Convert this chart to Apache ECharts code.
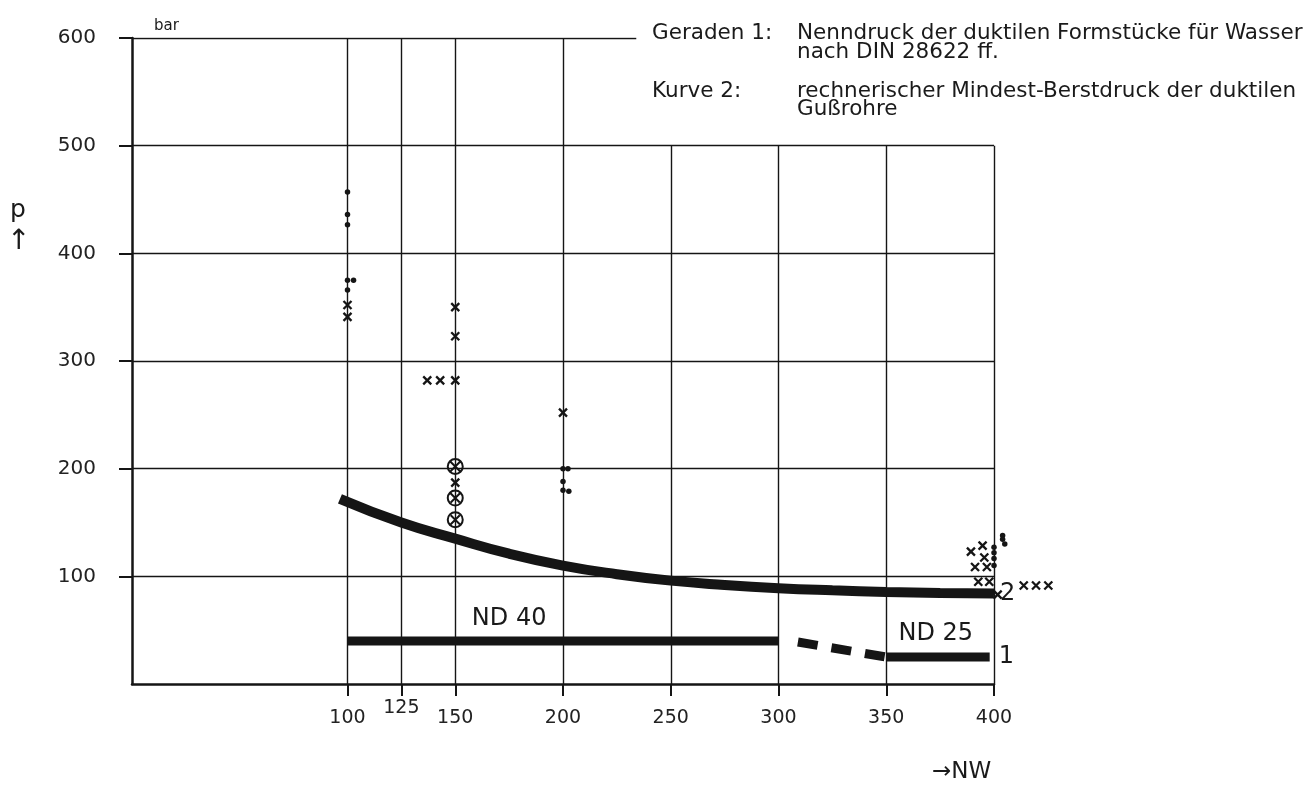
<!DOCTYPE html>
<html>
<head>
<meta charset="UTF-8">
<title>Berstdruck duktiler Gussrohre</title>
<script src="https://cdn.jsdelivr.net/npm/echarts@6/dist/echarts.min.js"></script>
<style>
  html, body { margin: 0; padding: 0; background: #fff; }
  #main { width: 1316px; height: 785px; }
</style>
</head>
<body>
<div id="main"></div>
<script>
// tick labels
var xTicks = [100, 125, 150, 200, 250, 300, 350, 400];
var yTicks = [100, 200, 300, 400, 500, 600];

// grid lines of the drawing
var vLinesHigh = [100, 125, 150, 200];   // run up to 600 bar
var vLinesLow = [250, 300, 350, 400];    // run up to 500 bar
var hLines = [100, 200, 300, 400, 500];
var topLineEnd = 234;

// Kurve 2: rechnerischer Mindest-Berstdruck
var curve2 = [[96.5, 172], [125, 150], [150, 135], [175, 121], [200, 110], [225, 102],
              [250, 96], [275, 92], [300, 89], [325, 87], [350, 85.5], [375, 84.5], [400, 84]];

// Geraden 1: Nenndruck
var nd40 = [[100, 40], [300, 40]];
var ndStep = [[309, 39], [350, 25]];
var nd25 = [[350, 25], [398, 25]];

// Versuchswerte
var crossPts = [
  [100, 352], [100, 341],
  [150, 350], [150, 323], [137, 282], [143, 282], [150, 282], [150, 187],
  [200, 252],
  [389.3, 123], [394.7, 128.5], [395.5, 117.5], [391.2, 108.7], [396.7, 108.7],
  [392.7, 95], [397.8, 95], [401.7, 83], [413.8, 91.5], [419.5, 91.5], [425.2, 91.5]
];
var dotPts = [
  [100, 457], [100, 436], [100, 426.5], [100, 375], [102.8, 375], [100, 366],
  [200, 200], [202.3, 200], [200, 188], [200, 180], [202.7, 179],
  [404, 138], [404, 134.5], [405, 130], [400, 127], [400, 122], [400, 116.5], [400, 110]
];
var ringPts = [[150, 202], [150, 172.7], [150, 152.6]];

var lineTags = [[175, 61, 'ND 40'], [373, 47, 'ND 25']];

var FONT = 'DejaVu Sans';
var INK = '#151515';

var gridSegs = [];
vLinesHigh.forEach(function (x) { gridSegs.push({ coords: [[x, 0], [x, 600]] }); });
vLinesLow.forEach(function (x) { gridSegs.push({ coords: [[x, 0], [x, 500]] }); });
hLines.forEach(function (y) { gridSegs.push({ coords: [[0, y], [400, y]] }); });
gridSegs.push({ coords: [[0, 600], [topLineEnd, 600]] });

function txt(left, top, text, size) {
  return {
    type: 'text', left: left, top: top,
    style: { text: text, fontSize: size, fontFamily: FONT, fill: '#1a1a1a' }
  };
}

var myChart = echarts.init(document.getElementById('main'));

var option = {
  backgroundColor: '#fff',
  animation: false,
  grid: { left: 132, right: 322, top: 38, bottom: 101 },
  xAxis: [{
    type: 'value', min: 0, max: 400,
    axisLine: { show: true, lineStyle: { color: INK, width: 2.5 } },
    axisTick: { show: true, customValues: xTicks, length: 12, lineStyle: { color: INK, width: 2 } },
    axisLabel: {
      customValues: xTicks.filter(function (v) { return v !== 125; }),
      margin: 25, fontSize: 19, fontFamily: FONT, color: '#222'
    },
    splitLine: { show: false }
  }, {
    type: 'value', min: 0, max: 400, position: 'bottom', gridIndex: 0,
    axisLine: { show: false }, axisTick: { show: false },
    axisLabel: { customValues: [125], margin: 15, fontSize: 19, fontFamily: FONT, color: '#222' },
    splitLine: { show: false }
  }],
  yAxis: {
    type: 'value', min: 0, max: 600, interval: 100,
    axisLine: { show: true, lineStyle: { color: INK, width: 2.5 } },
    axisTick: { show: true, customValues: yTicks, length: 13, lineStyle: { color: INK, width: 2 } },
    axisLabel: { customValues: yTicks, margin: 36, fontSize: 20, fontFamily: FONT, color: '#222',
                 padding: [0, 0, 8, 0] },
    splitLine: { show: false }
  },
  graphic: [
    txt(154, 19, 'bar', 15),
    txt(10, 198, 'p', 25),
    txt(7, 228, '↑', 28),
    txt(932, 761, '→NW', 23),
    txt(652, 22, 'Geraden 1:', 21.5),
    txt(797, 22, 'Nenndruck der duktilen Formstücke für Wasser', 21.5),
    txt(797, 41, 'nach DIN 28622 ff.', 21.5),
    txt(652, 80, 'Kurve 2:', 21.5),
    txt(797, 80, 'rechnerischer Mindest-Berstdruck der duktilen', 21.5),
    txt(797, 98, 'Gußrohre', 21.5)
  ],
  series: [
    {
      name: 'Raster', type: 'lines', coordinateSystem: 'cartesian2d', z: 1,
      lineStyle: { color: INK, width: 1.4, opacity: 1, curveness: 0 },
      silent: true,
      data: gridSegs
    },
    {
      name: 'Kurve 2', type: 'line', smooth: true, symbol: 'none', z: 3,
      lineStyle: { color: INK, width: 10, cap: 'butt' },
      endLabel: { show: true, formatter: '2', fontSize: 24, fontFamily: FONT, color: '#1a1a1a', distance: 6 },
      data: curve2
    },
    {
      name: 'ND 40', type: 'line', symbol: 'none', z: 3,
      lineStyle: { color: INK, width: 9, cap: 'butt' },
      data: nd40
    },
    {
      name: 'Übergang', type: 'line', symbol: 'none', z: 3,
      lineStyle: { color: INK, width: 9, type: [20, 14], cap: 'butt' },
      data: ndStep
    },
    {
      name: 'ND 25', type: 'line', symbol: 'none', z: 3,
      lineStyle: { color: INK, width: 9, cap: 'butt' },
      endLabel: { show: true, formatter: '1', fontSize: 24, fontFamily: FONT, color: '#1a1a1a', distance: 9 },
      data: nd25
    },
    {
      name: 'Kreuze', type: 'scatter', z: 4, clip: false,
      symbol: 'path://M0,0 L10,10 M10,0 L0,10', symbolSize: 8,
      itemStyle: { color: 'none', borderColor: INK, borderWidth: 2.3, opacity: 1 },
      data: crossPts
    },
    {
      name: 'Punkte', type: 'scatter', z: 4, clip: false,
      symbol: 'circle', symbolSize: 5.5,
      itemStyle: { color: INK, opacity: 1 },
      data: dotPts
    },
    {
      name: 'Ringe', type: 'scatter', z: 4,
      symbol: 'path://M10,0 A10,10 0 1 1 10,20 A10,10 0 1 1 10,0 Z M4,4 L16,16 M16,4 L4,16',
      symbolSize: 15,
      itemStyle: { color: 'none', borderColor: INK, borderWidth: 2, opacity: 1 },
      data: ringPts
    },
    {
      name: 'Beschriftung', type: 'scatter', z: 5, symbolSize: 0, silent: true,
      itemStyle: { opacity: 1 },
      label: { show: true, position: 'inside', formatter: '{b}', fontSize: 24, fontFamily: FONT, color: '#1a1a1a' },
      data: lineTags.map(function (t) { return { name: t[2], value: [t[0], t[1]] }; })
    }
  ]
};
myChart.setOption(option);
</script>
</body>
</html>
